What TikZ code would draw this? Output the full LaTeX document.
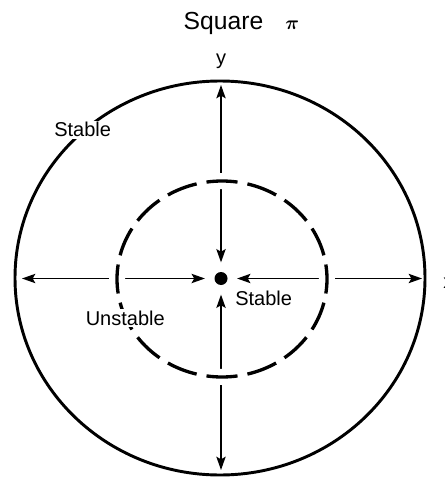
\documentclass[tikz,border=0pt]{standalone}
\usepackage{fontspec}
\setmainfont{Liberation Sans}
\usetikzlibrary{arrows.meta,positioning,calc}
\tikzset{
  >={Stealth[length=10pt,width=7pt,inset=2pt]},
  ring/.style={draw=black,line width=2.2pt},
  dring/.style={draw=black,line width=2.5pt,preaction={draw=white,line width=12pt}},
  arr/.style={<->,draw=black,line width=1.1pt,shorten >=7pt},
  lab/.style={font=\fontsize{15}{15}\selectfont,inner sep=1.5pt},
}
\begin{document}
\begin{tikzpicture}[x=0.75pt,y=-0.75pt]
\useasboundingbox (0,0) rectangle (444,477);
% outer (stable) orbit
\draw[ring] (220,278) ellipse [x radius=205,y radius=197];
\node[circle,fill=black,inner sep=0pt,minimum size=9.75pt] (dot) at (221,278.5) {};
\coordinate (top) at (221,85);
\coordinate (bot) at (221,470);
\coordinate (lft) at (22,278.5);
\coordinate (rgt) at (422,278.5);
\draw[arr] (top) -- (dot);
\draw[arr] (bot) -- (dot);
\draw[arr] (lft) -- (dot);
\draw[arr] (rgt) -- (dot);
% inner (unstable) orbit
\foreach \a in {0,22.5,...,337.5}
  \draw[dring] (222,279) ++(\a-8.5:105 and 98) arc[start angle=\a-8.5,end angle=\a+8.5,x radius=105,y radius=98];
\node[lab,fill=white,anchor=base west] (stout) at (52,137) {Stable};
\node[lab,anchor=base west] (stin) at (233,305) {Stable};
\node[lab,fill=white,anchor=base east] (unst) at (167,325) {Unstable};
\node[lab,anchor=base] (ylab) at (221,65) {y};
\node[lab,anchor=base west] (xlab) at (441,288) {x};
\node[font=\fontsize{18.5}{20}\selectfont,anchor=base west] (ttl) at (179,29.5) {Square\hspace{0.9em}{\fontsize{15}{15}\selectfont\boldmath$\pi$}};
\end{tikzpicture}
\end{document}
